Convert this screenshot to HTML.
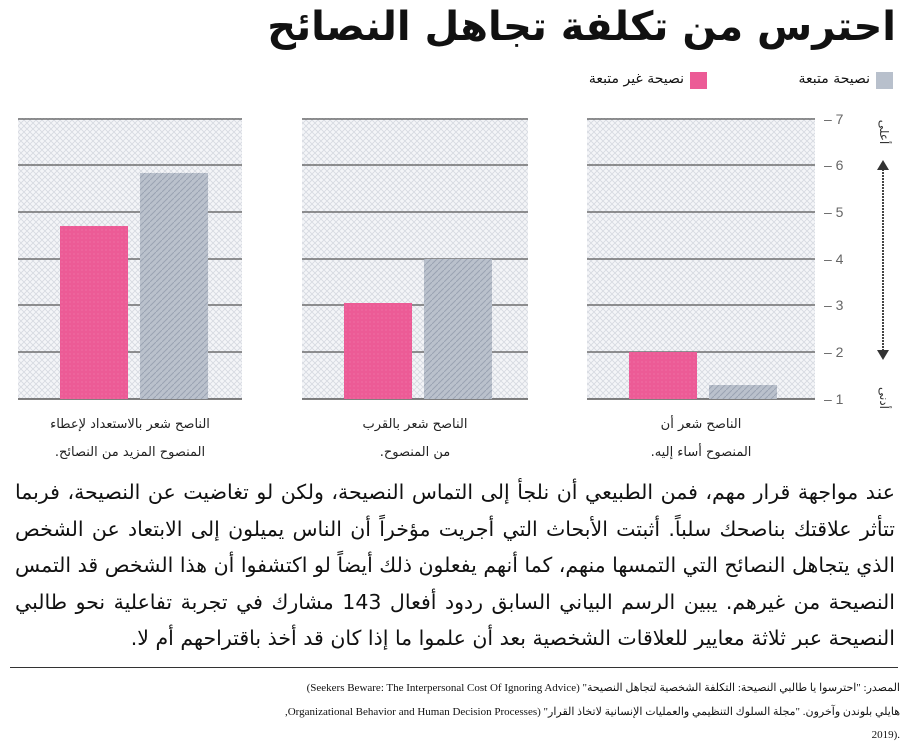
<!DOCTYPE html>
<html><head><meta charset="utf-8"><style>
body{margin:0;width:908px;height:755px;background:#fff;overflow:hidden;font-family:"Liberation Serif","Noto Sans CJK SC",serif;color:#111}
.t{position:absolute;white-space:nowrap}
</style></head><body>
<div class="t" style="right:12px;top:4px;font-size:40px;font-weight:bold;direction:rtl;font-family:'DejaVu Sans',sans-serif">احترس من تكلفة تجاهل النصائح</div>
<div style="position:absolute;left:876px;top:72px;width:17px;height:17px;background:#b8c0cc"></div>
<div class="t" style="right:38px;top:71px;font-size:14px;direction:rtl;font-family:'DejaVu Sans',sans-serif">نصيحة متبعة</div>
<div style="position:absolute;left:690px;top:72px;width:17px;height:17px;background:#ec5b96"></div>
<div class="t" style="right:224px;top:71px;font-size:14px;direction:rtl;font-family:'DejaVu Sans',sans-serif">نصيحة غير متبعة</div>
<svg style="position:absolute;left:0;top:0" width="908" height="470">
<defs>
<pattern id="bg" width="6" height="6" patternUnits="userSpaceOnUse"><rect width="6" height="6" fill="#f4f5f8"/><path d="M0 0L6 6M6 0L0 6" stroke="#d6d9e0" stroke-width="0.8"/></pattern>
<pattern id="gr" width="6" height="6" patternUnits="userSpaceOnUse"><rect width="6" height="6" fill="#bac1cc"/><path d="M0 6L6 0" stroke="#9aa3b2" stroke-width="1"/></pattern>
<pattern id="pk" width="4" height="4" patternUnits="userSpaceOnUse"><rect width="4" height="4" fill="#ec5b96"/><circle cx="2" cy="2" r="0.6" fill="#f27aaa"/></pattern>
</defs>
<rect x="587" y="118" width="228" height="281" fill="url(#bg)"/>
<rect x="302" y="118" width="226" height="281" fill="url(#bg)"/>
<rect x="18" y="118" width="224" height="281" fill="url(#bg)"/>
<g stroke="#555" stroke-width="1.2">
<path d="M18 119H242M302 119H528M587 119H815"/>
<path d="M18 165H242M302 165H528M587 165H815"/>
<path d="M18 212H242M302 212H528M587 212H815"/>
<path d="M18 259H242M302 259H528M587 259H815"/>
<path d="M18 305H242M302 305H528M587 305H815"/>
<path d="M18 352H242M302 352H528M587 352H815"/>
<path d="M18 399H242M302 399H528M587 399H815" stroke-width="1.6"/>
</g>
<rect x="629" y="352" width="68" height="47" fill="url(#pk)"/>
<rect x="709" y="385" width="68" height="14" fill="url(#gr)"/>
<rect x="344" y="303" width="68" height="96" fill="url(#pk)"/>
<rect x="424" y="259" width="68" height="140" fill="url(#gr)"/>
<rect x="60" y="226" width="68" height="173" fill="url(#pk)"/>
<rect x="140" y="173" width="68" height="226" fill="url(#gr)"/>
<g font-family="Liberation Sans,sans-serif" font-size="14" fill="#666">
<text x="824" y="124">– 7</text><text x="824" y="170">– 6</text><text x="824" y="217">– 5</text><text x="824" y="264">– 4</text><text x="824" y="310">– 3</text><text x="824" y="357">– 2</text><text x="824" y="404">– 1</text>
</g>
<path d="M883 166V352" stroke="#444" stroke-width="2" stroke-dasharray="2 1"/>
<path d="M877 170L883 160L889 170Z M877 350L883 360L889 350Z" fill="#333"/>
<text x="880" y="132" font-size="12" fill="#333" transform="rotate(90 880 132)" text-anchor="middle" font-family="DejaVu Sans">أعلى</text>
<text x="880" y="398" font-size="12" fill="#333" transform="rotate(90 880 398)" text-anchor="middle" font-family="DejaVu Sans">أدنى</text>
<g font-family="DejaVu Sans,sans-serif" font-size="13" fill="#222" text-anchor="middle" direction="rtl">
<text x="701" y="428">الناصح شعر أن</text><text x="701" y="456">المنصوح أساء إليه.</text>
<text x="415" y="428">الناصح شعر بالقرب</text><text x="415" y="456">من المنصوح.</text>
<text x="130" y="428">الناصح شعر بالاستعداد لإعطاء</text><text x="130" y="456">المنصوح المزيد من النصائح.</text>
</g>
</svg>
<div style="position:absolute;left:15px;top:474px;width:880px;direction:rtl;text-align:justify;font-size:20.5px;line-height:36.5px;font-family:'DejaVu Sans',sans-serif">عند مواجهة قرار مهم، فمن الطبيعي أن نلجأ إلى التماس النصيحة، ولكن لو تغاضيت عن النصيحة، فربما تتأثر علاقتك بناصحك سلباً. أثبتت الأبحاث التي أجريت مؤخراً أن الناس يميلون إلى الابتعاد عن الشخص الذي يتجاهل النصائح التي التمسها منهم، كما أنهم يفعلون ذلك أيضاً لو اكتشفوا أن هذا الشخص قد التمس النصيحة من غيرهم. يبين الرسم البياني السابق ردود أفعال 143 مشارك في تجربة تفاعلية نحو طالبي النصيحة عبر ثلاثة معايير للعلاقات الشخصية بعد أن علموا ما إذا كان قد أخذ باقتراحهم أم لا.</div>
<div style="position:absolute;left:10px;top:667px;width:888px;border-top:1.5px solid #333"></div>
<div class="t" style="right:8px;top:681px;font-size:11px;direction:rtl">المصدر: "احترسوا يا طالبي النصيحة: التكلفة الشخصية لتجاهل النصيحة" (Seekers Beware: The Interpersonal Cost Of Ignoring Advice)</div>
<div class="t" style="right:8px;top:705px;font-size:11px;direction:rtl">هايلي بلوندن وآخرون. "مجلة السلوك التنظيمي والعمليات الإنسانية لاتخاذ القرار" (Organizational Behavior and Human Decision Processes,</div>
<div class="t" style="right:8px;top:729px;font-size:11px">2019).</div>
</body></html>
